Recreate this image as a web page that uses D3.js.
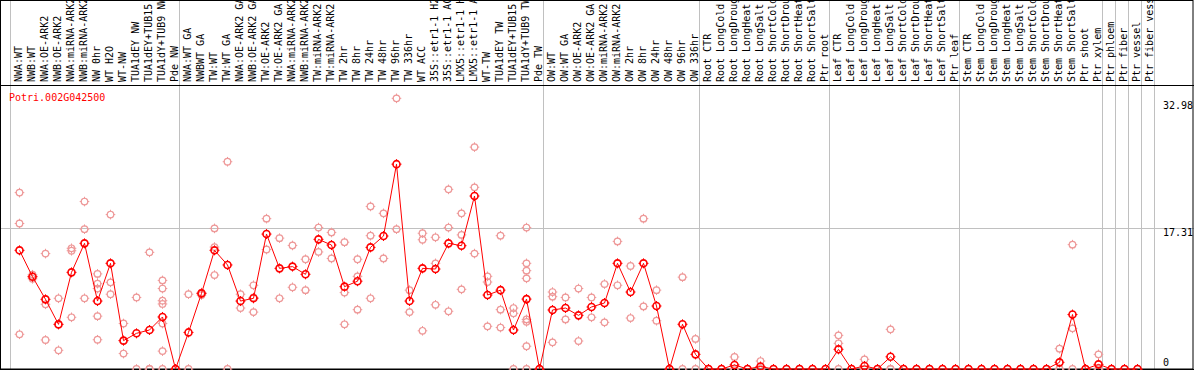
<!DOCTYPE html>
<html>
<head>
<meta charset="utf-8">
<script src="https://cdn.jsdelivr.net/npm/d3@7"></script>
<style>
  body { margin: 0; background: #fff; }
  svg { display: block; }
  text { font-family: "DejaVu Sans Mono", monospace; font-size: 10px; }
</style>
</head>
<body>
<svg id="chart"></svg>
<script>
const WIDTH = 1194;
const HEIGHT = 370;

const geneName = "Potri.002G042500";

const categories = [
  "NWA:WT", "NWB:WT", "NWA:OE-ARK2", "NWB:OE-ARK2", "NWA:miRNA-ARK2", "NWB:miRNA-ARK2",
  "NW 0hr", "WT H2O", "WT-NW", "TUA1dEY NW", "TUA1dEY+TUB15 NW", "TUA1dY+TUB9 NW", "Pde NW",
  "NWA:WT GA", "NWBWT GA", "TW:WT", "TW:WT GA", "NWA:OE-ARK2 GA", "NWB:OE-ARK2 GA",
  "TW:OE-ARK2", "TW:OE-ARK2 GA", "NWA:miRNA-ARK2", "NWB:miRNA-ARK2", "TW:miRNA-ARK2",
  "TW:miRNA-ARK2", "TW 2hr", "TW 8hr", "TW 24hr", "TW 48hr", "TW 96hr", "TW 336hr",
  "WT ACC", "35S::etr1-1 H2O", "35S::etr1-1 ACC", "LMX5::etr1-1 H2O", "LMX5::etr1-1 ACC",
  "WT-TW", "TUA1dEY TW", "TUA1dEY+TUB15 TW", "TUA1dY+TUB9 TW", "Pde TW",
  "OW:WT", "OW:WT GA", "OW:OE-ARK2", "OW:OE-ARK2 GA", "OW:miRNA-ARK2", "OW:miRNA-ARK2",
  "OW 2hr", "OW 8hr", "OW 24hr", "OW 48hr", "OW 96hr", "OW 336hr",
  "Root CTR", "Root LongCold", "Root LongDrought", "Root LongHeat", "Root LongSalt",
  "Root ShortCold", "Root ShortDrought", "Root ShortHeat", "Root ShortSalt", "Ptr root",
  "Leaf CTR", "Leaf LongCold", "Leaf LongDrought", "Leaf LongHeat", "Leaf LongSalt",
  "Leaf ShortCold", "Leaf ShortDrought", "Leaf ShortHeat", "Leaf ShortSalt", "Ptr leaf",
  "Stem CTR", "Stem LongCold", "Stem LongDrought", "Stem LongHeat", "Stem LongSalt",
  "Stem ShortCold", "Stem ShortDrought", "Stem ShortHeat", "Stem ShortSalt", "Ptr shoot",
  "Ptr xylem", "Ptr phloem", "Ptr fiber", "Ptr vessel", "Ptr fiber vessel"
];

// mean expression per sample
const means = [
  14.6, 11.35, 8.57, 5.49, 11.89, 15.46, 8.36, 13.0, 3.49, 4.39, 4.8, 6.4, 0,
  4.5, 9.3, 14.6, 12.8, 8.36, 8.7, 16.6, 12.38, 12.6, 11.65, 15.95,
  15.25, 10.13, 10.8, 14.96, 16.36, 25.2, 8.36,
  12.38, 12.3, 15.46, 15.17, 21.28,
  9.1, 9.7, 4.8, 8.6, 0,
  7.26, 7.5, 6.6, 7.63, 8.12, 13.0,
  9.47, 13.0, 7.75, 0, 5.5, 1.8,
  0, 0, 0.5, 0, 0.3, 0, 0, 0, 0, 0,
  2.42, 0, 0.37, 0, 1.5, 0, 0, 0, 0, 0,
  0, 0, 0, 0, 0, 0, 0, 0.82, 6.7,
  0, 0.57, 0, 0, 0
];

// individual replicate values per sample
const replicates = [
  [21.7, 17.9, 4.27], [11.1, 11.4, 11.6], [14.2, 7.96, 3.57], [8.7, 5.5, 2.3],
  [14.85, 14.55, 6.36], [20.6, 17.2, 8.7], [11.7, 10.5, 9.9, 6.5, 3.6], [19.0, 10.66, 9.2],
  [5.6, 3.5, 1.9], [8.8, 0], [14.35, 0, 0], [10.9, 9.9, 8.4, 8.0, 5.6, 2.2, 0], [0],
  [9.2, 0], [9.4, 9.3, 9.1], [17.3, 15.0, 11.56], [25.5, 0], [9.2, 7.5],
  [10.3, 8.8, 7.0], [18.5, 14.7], [16.1, 8.7], [15.2, 10.05], [13.5, 9.7], [17.4, 14.4],
  [16.8, 13.6], [15.6, 9.4, 5.5], [13.5, 11.4, 7.3], [20.0, 16.4, 8.7], [19.15, 13.6],
  [33.3, 17.2], [9.7, 7.0],
  [16.7, 15.9, 4.7], [16.2, 13.0, 7.9], [22.1, 17.4, 7.1], [19.15, 16.5, 9.8],
  [27.3, 22.35, 14.2],
  [11.4, 10.7, 5.25], [16.4, 7.3, 5.1], [7.5, 6.85, 0],
  [17.4, 13.0, 12.1, 11.15, 6.1, 5.8, 2.8, 0], [0],
  [9.47, 8.9, 3.28], [8.8, 6.1], [9.9, 3.44], [8.8, 6.36], [10.45, 5.74], [15.7, 10.3],
  [12.67, 6.27], [18.5, 7.7], [9.7, 5.94], [0], [11.3, 0], [3.7, 0],
  [0], [0], [1.48, 0, 0], [0], [0.98, 0, 0], [0], [0], [0], [0], [0],
  [4.14, 3.16, 0], [0], [1.19, 0, 0], [0], [4.88, 0, 0], [0], [0], [0], [0], [0],
  [0], [0], [0], [0], [0], [0], [0], [2.5, 0, 0], [15.3, 5.0, 0],
  [0], [1.8, 0, 0], [0], [0], [0]
];

// first sample of every group (last entry closes the final group)
const groupStarts = [0, 13, 41, 53, 63, 73, 84, 85, 86, 87, 88];

const yTicks = [0, 17.31, 32.98];

const svg = d3.select('#chart')
  .attr('width', WIDTH)
  .attr('height', HEIGHT);

const x = d3.scaleBand()
  .domain(d3.range(categories.length))
  .range([11, 11 + 13 * categories.length]);

const px = i => x(i) + 8.5;

const y = d3.scaleLinear()
  .domain([0, 17.31])
  .range([369, 228.3]);

// vertical group separators
svg.append('g')
  .selectAll('line')
  .data(groupStarts)
  .enter()
  .append('line')
  .attr('x1', d => d < categories.length ? x(d) : x.range()[1])
  .attr('x2', d => d < categories.length ? x(d) : x.range()[1])
  .attr('y1', 0)
  .attr('y2', HEIGHT)
  .style('stroke', '#c0c0c0')
  .style('stroke-width', 1)
  .attr('transform', 'translate(-0.5,0)');

// horizontal gridline(s)
svg.append('g')
  .selectAll('line')
  .data(yTicks.filter(d => d > 0 && d < 20))
  .enter()
  .append('line')
  .attr('x1', 0)
  .attr('x2', WIDTH)
  .attr('y1', d => Math.round(y(d)) + 0.5)
  .attr('y2', d => Math.round(y(d)) + 0.5)
  .style('stroke', '#c0c0c0');

// frame
svg.append('rect')
  .attr('x', 0.5).attr('y', 0.5)
  .attr('width', WIDTH - 1.5).attr('height', HEIGHT - 1.5)
  .style('fill', 'none').style('stroke', 'black');
svg.append('line')
  .attr('x1', 0).attr('x2', WIDTH)
  .attr('y1', 85.5).attr('y2', 85.5)
  .style('stroke', 'black');
svg.append('line')
  .attr('x1', 0).attr('x2', WIDTH)
  .attr('y1', 369.5).attr('y2', 369.5)
  .style('stroke', 'black');

// sample labels
svg.append('g')
  .selectAll('text')
  .data(categories)
  .enter()
  .append('text')
  .attr('transform', (d, i) => `translate(${px(i) + 2.5},82) rotate(-90)`)
  .style('fill', 'black')
  .text(d => d);

// y labels
svg.append('g')
  .selectAll('text')
  .data(yTicks)
  .enter()
  .append('text')
  .attr('x', 1163)
  .attr('y', d => d === 0 ? 365.5 : y(d) + 8)
  .style('fill', 'black')
  .text(d => d);

svg.append('text')
  .attr('x', 9)
  .attr('y', 100.5)
  .style('fill', 'red')
  .text(geneName);

function marker(g, r, color, width) {
  g.append('circle')
    .attr('r', r)
    .style('fill', 'none')
    .style('stroke', color)
    .style('stroke-width', width);
  g.append('path')
    .attr('d', `M0,${-r - 1.5}V${-r + 0.5}M0,${r - 0.5}V${r + 1.5}M${-r - 1.5},0H${-r + 0.5}M${r - 0.5},0H${r + 1.5}`)
    .style('stroke', color)
    .style('stroke-width', 1);
}

// replicate points
const reps = [];
replicates.forEach((vals, i) => vals.forEach(v => reps.push({ i: i, v: v })));

svg.append('g')
  .selectAll('g')
  .data(reps)
  .enter()
  .append('g')
  .attr('transform', d => `translate(${px(d.i)},${y(d.v)})`)
  .each(function () { marker(d3.select(this), 3.3, '#ee9999', 1.2); });

// mean line
svg.append('path')
  .datum(means)
  .attr('d', d3.line().x((d, i) => px(i)).y(d => y(d)))
  .style('fill', 'none')
  .style('stroke', 'red')
  .style('stroke-width', 1);

svg.append('g')
  .selectAll('g')
  .data(means)
  .enter()
  .append('g')
  .attr('transform', (d, i) => `translate(${px(i)},${y(d)})`)
  .each(function () { marker(d3.select(this), 3.5, 'red', 1.6); });
</script>
</body>
</html>
